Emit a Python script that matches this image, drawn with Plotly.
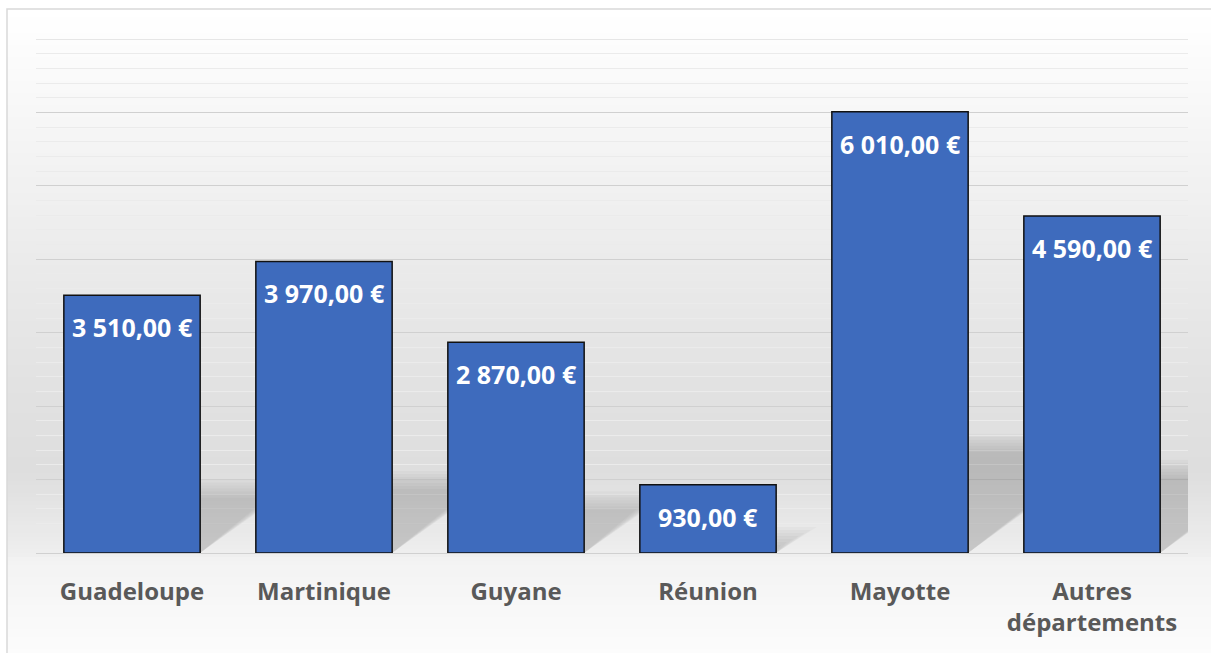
import plotly.graph_objects as go

categories = ["Guadeloupe", "Martinique", "Guyane", "Réunion", "Mayotte", "Autres<br>départements"]
values = [3510, 3970, 2870, 930, 6010, 4590]
y_max = 7000

W, H = 1211, 653
ML, MR, MT, MB = 36, 23, 39, 100
plot_w = W - ML - MR
plot_h = H - MT - MB
base_py = MT + plot_h


def fmt(v):
    s = f"{v:,.2f}"
    return s.replace(",", " ").replace(".", ",") + " €"


def px_to_paper_y(py):
    return (base_py - py) / plot_h


def px_to_paper_x(px):
    return (px - ML) / plot_w


# background vertical gradient (pixel y, gray level)
stops = [(9, 255), (40, 253), (112, 247), (185, 241), (260, 235), (330, 230),
         (400, 225), (470, 222), (490, 225), (553, 238), (560, 243), (653, 252)]


def gray_at(py):
    for (a, ga), (b, gb) in zip(stops[:-1], stops[1:]):
        if a <= py <= b:
            t = (py - a) / (b - a)
            return ga + (gb - ga) * t
    return stops[-1][1]


shapes = []
step = 4
py = 9
while py < H:
    g = int(round(gray_at(py + step / 2)))
    shapes.append(dict(
        type="rect", xref="paper", yref="paper", layer="below",
        x0=px_to_paper_x(7), x1=px_to_paper_x(W + 5),
        y0=px_to_paper_y(py + step + 0.5), y1=px_to_paper_y(py),
        fillcolor=f"rgb({g},{g},{g})", line=dict(width=0)))
    py += step

# frame border
shapes.append(dict(type="rect", xref="paper", yref="paper", layer="below",
                   x0=px_to_paper_x(7), x1=px_to_paper_x(W + 10),
                   y0=px_to_paper_y(H + 10), y1=px_to_paper_y(9),
                   fillcolor="rgba(0,0,0,0)", line=dict(color="#d9d9d9", width=1.5)))

# top major gridline (plotly omits the one on the plot edge)
shapes.append(dict(type="line", xref="paper", yref="y", layer="below",
                   x0=0, x1=1, y0=y_max, y1=y_max, line=dict(color="#d0d0d0", width=1)))

# perspective shadows behind bars (skewed up-right, blurred by layering)
px_per_unit = plot_h / y_max
px_per_cat = plot_w / len(values)
bar_half = (1 - 0.29) / 2
shadow_k = 0.25
slope = 0.75
for i, v in enumerate(values):
    h_px = v * px_per_unit * shadow_k
    xr = i + bar_half
    for e in (-9, -6, -3, 0, 3, 6, 9):
        top_val = (h_px + e) / px_per_unit
        dx = (h_px / slope + 2 * e) / px_per_cat
        path = f"M {xr},0 L {xr},{top_val} L {xr + dx},{top_val} Z"
        shapes.append(dict(type="path", xref="x", yref="y", layer="between",
                           path=path, fillcolor="rgba(0,0,0,0.025)", line=dict(width=0)))

fig = go.Figure()
fig.add_trace(go.Bar(
    x=categories, y=values,
    marker=dict(color="#3e6bbd", line=dict(color="#111111", width=1.5)),
    hoverinfo="skip",
))

annotations = []
for c, v in zip(categories, values):
    annotations.append(dict(
        x=c, y=v, yshift=-32, text=fmt(v), showarrow=False,
        font=dict(family="Open Sans", size=25, color="white", weight="bold")))

fig.update_layout(
    width=W, height=H, autosize=False,
    margin=dict(l=ML, r=MR, t=MT, b=MB, pad=0),
    paper_bgcolor="white", plot_bgcolor="rgba(0,0,0,0)",
    bargap=0.29, showlegend=False,
    shapes=shapes, annotations=annotations,
    xaxis=dict(range=[-0.5, len(values) - 0.5], showgrid=False, showline=True,
               linecolor="#d0d0d0", linewidth=1, ticks="", ticklabelstandoff=17,
               tickfont=dict(family="Open Sans", size=24, color="#595959", weight="bold")),
    yaxis=dict(range=[0, y_max], dtick=1000, showticklabels=False, zeroline=False,
               showgrid=True, gridcolor="#d0d0d0", gridwidth=1,
               minor=dict(dtick=200, showgrid=True, gridcolor="#ebebeb", gridwidth=1)),
)

fig.write_html("out.html", config={"displayModeBar": False},
               post_script="document.body.style.margin='0px';")
